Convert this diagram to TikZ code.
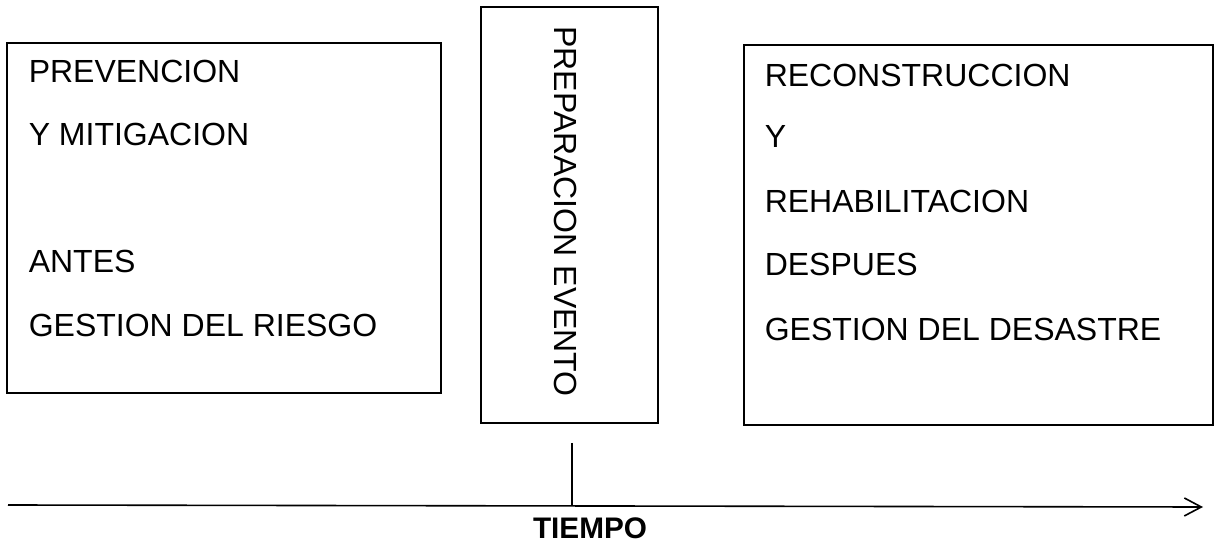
\documentclass[tikz,border=0pt]{standalone}
\usepackage{fontspec}
\setmainfont{Liberation Sans}
\usetikzlibrary{arrows.meta}
\begin{document}
\begin{tikzpicture}[x=0.75pt,y=-0.75pt,
  box/.style={draw=black,line width=1.4pt,rectangle,inner sep=0pt},
  txt/.style={inner sep=0pt,anchor=base west,font=\fontsize{24pt}{28pt}\selectfont},
  axisline/.style={line width=1.2pt,-{Straight Barb[length=12.75pt,width=13.5pt,line width=1.2pt]}},
  tickline/.style={line width=0.8pt}]
\useasboundingbox (0,0) rectangle (1220,548);
% boxes
\node[box,minimum width=434*0.75pt,minimum height=350*0.75pt] (left) at (224,218) {};
\node[box,minimum width=177*0.75pt,minimum height=416*0.75pt] (mid) at (569.5,215) {};
\node[box,minimum width=469*0.75pt,minimum height=380*0.75pt] (right) at (978.5,235) {};
% left texts
\node[txt] (l1) at (28.5,83) {PREVENCION};
\node[txt] (l2) at (28.5,146) {Y MITIGACION};
\node[txt] (l3) at (28.5,273) {ANTES};
\node[txt] (l4) at (28.5,337) {GESTION DEL RIESGO};
% right texts
\node[txt] (r1) at (764.5,87) {RECONSTRUCCION};
\node[txt] (r2) at (764.5,148) {Y};
\node[txt] (r3) at (764.5,213) {REHABILITACION};
\node[txt] (r4) at (764.5,276) {DESPUES};
\node[txt] (r5) at (764.5,341) {GESTION DEL DESASTRE};
% middle text
\node[txt,rotate=-90] (m1) at (554,26) {PREPARACION EVENTO};
% axis
\coordinate (a0) at (8,505);
\coordinate (a1) at (1203,507);
\draw[axisline] (a0) -- (a1);
\coordinate (t0) at (572,443);
\coordinate (t1) at (572,506);
\draw[tickline] (t0) -- (t1);
\node[inner sep=0pt,anchor=base,font=\fontsize{22.3pt}{26pt}\selectfont\bfseries] (tiempo) at (590,538) {TIEMPO};
\end{tikzpicture}
\end{document}
